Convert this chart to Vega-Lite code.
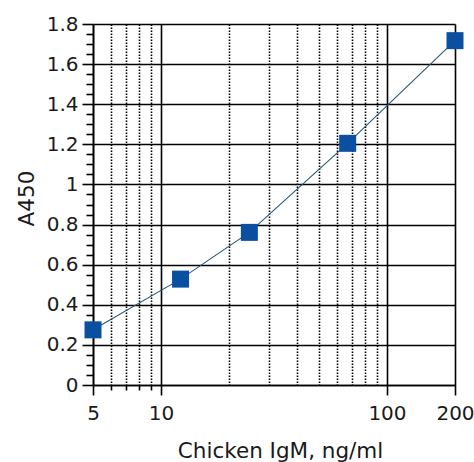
{
  "$schema": "https://vega.github.io/schema/vega-lite/v6.json",
  "autosize": {"type": "none"},
  "padding": {"left": 93, "top": 24, "right": 19, "bottom": 77},
  "width": 362,
  "height": 361,
  "background": "#ffffff",
  "config": {
    "view": {"stroke": null},
    "font": "DejaVu Sans",
    "axis": {
      "labelFont": "DejaVu Sans",
      "titleFont": "DejaVu Sans",
      "labelFontSize": 20,
      "titleFontSize": 21.5,
      "labelColor": "#1a1a1a",
      "titleColor": "#1a1a1a",
      "titleFontWeight": "normal",
      "domainColor": "#000000",
      "domainWidth": 1.6,
      "tickColor": "#000000",
      "tickWidth": 1.6,
      "gridColor": "#000000",
      "gridWidth": 1.6,
      "gridOpacity": 1,
      "labelOverlap": false,
      "labelBound": false,
      "labelFlush": false
    }
  },
  "data": {
    "values": [
      {"conc": 5, "a450": 0.275},
      {"conc": 12.2, "a450": 0.528},
      {"conc": 24.6, "a450": 0.761},
      {"conc": 67, "a450": 1.205},
      {"conc": 200, "a450": 1.717}
    ]
  },
  "encoding": {
    "x": {
      "field": "conc",
      "type": "quantitative",
      "scale": {"type": "log", "domain": [5, 200], "nice": false},
      "axis": {
        "title": "Chicken IgM, ng/ml",
        "values": [5, 6, 7, 8, 9, 10, 20, 30, 40, 50, 60, 70, 80, 90, 100, 200],
        "labelExpr": "indexof([5,10,100,200], datum.value) >= 0 ? '' + datum.value : ''",
        "grid": true,
        "gridDash": {"condition": {"test": "indexof([5,10,100,200], datum.value) < 0", "value": [1.5, 1.5]}, "value": []},
        "tickSize": {"condition": [{"test": "indexof([5,10,100,200], datum.value) >= 0", "value": 10}, {"test": "datum.value < 10", "value": 5}], "value": 0},
        "labelPadding": 8,
        "titleX": 187,
        "titleY": 72,
        "titleBaseline": "alphabetic",
        "titleAnchor": "middle"
      }
    },
    "y": {
      "field": "a450",
      "type": "quantitative",
      "scale": {"domain": [0, 1.8], "nice": false, "zero": true},
      "axis": {
        "title": "A450",
        "values": [0, 0.05, 0.1, 0.15, 0.2, 0.25, 0.3, 0.35, 0.4, 0.45, 0.5, 0.55, 0.6, 0.65, 0.7, 0.75, 0.8, 0.85, 0.9, 0.95, 1, 1.05, 1.1, 1.15, 1.2, 1.25, 1.3, 1.35, 1.4, 1.45, 1.5, 1.55, 1.6, 1.65, 1.7, 1.75, 1.8],
        "labelExpr": "abs(datum.value * 5 - round(datum.value * 5)) < 0.001 ? '' + round(datum.value * 10) / 10 : ''",
        "grid": true,
        "gridOpacity": {"condition": {"test": "abs(datum.value * 5 - round(datum.value * 5)) < 0.001", "value": 1}, "value": 0},
        "tickSize": {"condition": {"test": "abs(datum.value * 5 - round(datum.value * 5)) < 0.001", "value": 11}, "value": 7},
        "labelPadding": 4,
        "titleX": -60,
        "titleY": 174,
        "titleBaseline": "alphabetic",
        "titleAnchor": "middle"
      }
    }
  },
  "layer": [
    {
      "mark": {"type": "line", "color": "#2b5677", "strokeWidth": 1.1}
    },
    {
      "mark": {"type": "point", "shape": "square", "filled": true, "size": 289, "color": "#0b4fa0", "opacity": 1}
    }
  ]
}
